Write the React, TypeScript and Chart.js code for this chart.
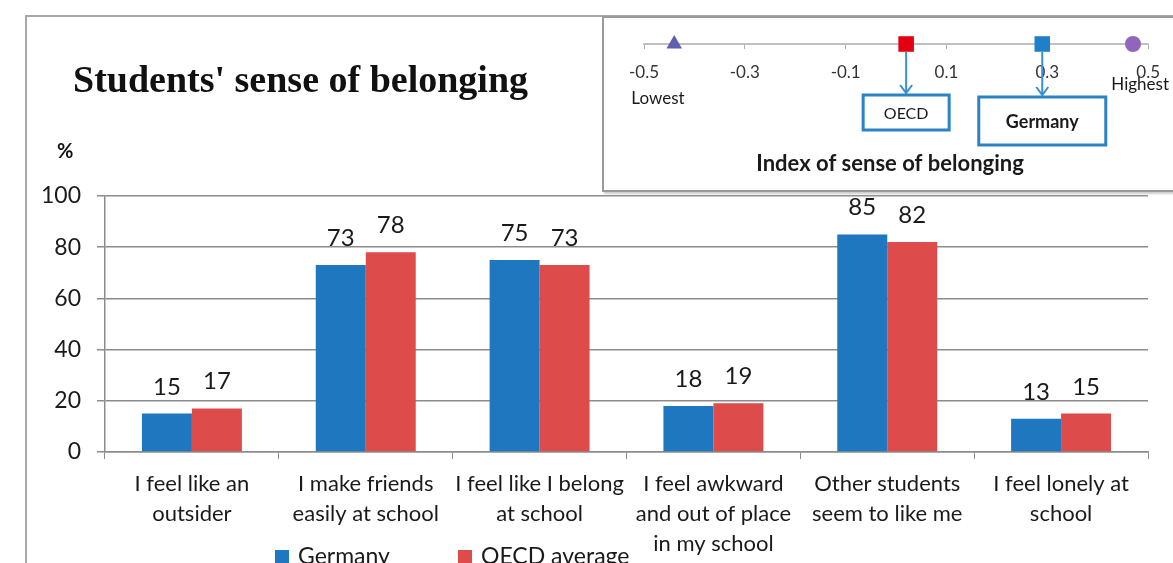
import React, { useEffect, useRef } from "react";
import { Chart, registerables } from "chart.js";

Chart.register(...registerables);

// ---------- data ----------
const categories: string[][] = [
  ["I feel like an", "outsider"],
  ["I make friends", "easily at school"],
  ["I feel like I belong", "at school"],
  ["I feel awkward", "and out of place", "in my school"],
  ["Other students", "seem to like me"],
  ["I feel lonely at", "school"],
];
const seriesNames = ["Germany", "OECD average"];
const germanyValues = [15, 73, 75, 18, 85, 13];
const oecdValues = [17, 78, 73, 19, 82, 15];
const yTickValues = [0, 20, 40, 60, 80, 100];

const indexTickValues = [-0.5, -0.3, -0.1, 0.1, 0.3, 0.5];
const indexPointNames = ["Lowest", "OECD", "Germany", "Highest"];
const indexPointValues = [-0.44, 0.02, 0.29, 0.47];

const mainTitle = "Students' sense of belonging";
const unitLabel = "%";
const indexTitle = "Index of sense of belonging";

// ---------- styles ----------
const BLUE = "#1f77bf";
const RED = "#dd4b4b";
const GRID = "#8c8c8c";
const TEXT = "#1a1a1a";
const SANS = "Lato, 'Open Sans', sans-serif";

const dataLabelPlugin = {
  id: "dataLabels",
  afterDatasetsDraw(chart: any) {
    const ctx = chart.ctx;
    ctx.save();
    ctx.font = `24px ${SANS}`;
    ctx.fillStyle = TEXT;
    ctx.textAlign = "center";
    ctx.textBaseline = "alphabetic";
    chart.data.datasets.forEach((ds: any, i: number) => {
      const meta = chart.getDatasetMeta(i);
      meta.data.forEach((el: any, j: number) => {
        ctx.fillText(String(ds.data[j]), el.x, el.y - 19);
      });
    });
    ctx.restore();
  },
};

const legendPlugin = {
  id: "customLegend",
  afterDraw(chart: any) {
    const ctx = chart.ctx;
    const area = chart.chartArea;
    ctx.save();
    ctx.font = `23px ${SANS}`;
    ctx.textBaseline = "middle";
    ctx.textAlign = "left";
    const yMid = area.bottom + 105;
    const starts = [area.left + 170, area.left + 353];
    chart.data.datasets.forEach((ds: any, i: number) => {
      const x = starts[i];
      ctx.fillStyle = ds.backgroundColor;
      ctx.fillRect(x, yMid - 7, 14, 14);
      ctx.fillStyle = TEXT;
      ctx.fillText(ds.label, x + 23, yMid);
    });
    ctx.restore();
  },
};

const insetPlugin = {
  id: "insetAnnotations",
  afterDraw(chart: any) {
    const ctx = chart.ctx;
    const xs = chart.scales.x;
    const meta = chart.getDatasetMeta(0);
    ctx.save();
    const boxes = [
      { idx: 1, w: 86, h: 35, top: 77, font: `16px ${SANS}` },
      { idx: 2, w: 127, h: 48, top: 79, font: `bold 18px ${SANS}` },
    ];
    boxes.forEach((b) => {
      const el = meta.data[b.idx];
      const x = el.x;
      ctx.strokeStyle = "#3a8fd2";
      ctx.lineWidth = 2;
      ctx.beginPath();
      ctx.moveTo(x, el.y + 8);
      ctx.lineTo(x, b.top - 2);
      ctx.moveTo(x - 6, b.top - 10);
      ctx.lineTo(x, b.top - 2);
      ctx.lineTo(x + 6, b.top - 10);
      ctx.stroke();
      ctx.lineWidth = 3;
      ctx.strokeStyle = "#2b83c6";
      ctx.strokeRect(x - b.w / 2, b.top, b.w, b.h);
      ctx.fillStyle = TEXT;
      ctx.font = b.font;
      ctx.textAlign = "center";
      ctx.textBaseline = "middle";
      ctx.fillText(indexPointNames[b.idx], x, b.top + b.h / 2 + 1);
    });
    ctx.font = `17px ${SANS}`;
    ctx.fillStyle = TEXT;
    ctx.textAlign = "center";
    ctx.textBaseline = "middle";
    ctx.fillText(indexPointNames[0], xs.getPixelForValue(-0.5) + 14, 81);
    ctx.fillText(indexPointNames[3], xs.getPixelForValue(0.5) - 8, 67);
    ctx.font = `bold 22px ${SANS}`;
    ctx.fillText(indexTitle, (chart.chartArea.left + chart.chartArea.right) / 2 - 6, 146);
    ctx.restore();
  },
};

export default function App() {
  const mainRef = useRef<HTMLCanvasElement>(null);
  const insetRef = useRef<HTMLCanvasElement>(null);

  useEffect(() => {
    const main = new Chart(mainRef.current as HTMLCanvasElement, {
      type: "bar",
      data: {
        labels: categories as any,
        datasets: [
          {
            label: seriesNames[0],
            data: germanyValues,
            backgroundColor: BLUE,
            categoryPercentage: 0.575,
            barPercentage: 1,
          },
          {
            label: seriesNames[1],
            data: oecdValues,
            backgroundColor: RED,
            categoryPercentage: 0.575,
            barPercentage: 1,
          },
        ],
      },
      options: {
        responsive: false,
        animation: false,
        devicePixelRatio: 1,
        layout: { padding: { left: 0, right: 25, top: 196, bottom: 0 } },
        plugins: {
          legend: { display: false },
          tooltip: { enabled: false },
        },
        scales: {
          x: {
            grid: {
              offset: true,
              drawOnChartArea: false,
              drawTicks: true,
              tickLength: 7,
              color: GRID,
            },
            border: { color: GRID, width: 1.5 },
            ticks: {
              font: { family: SANS, size: 22, lineHeight: 30 / 22 },
              color: TEXT,
              padding: 10,
              maxRotation: 0,
              autoSkip: false,
            },
            afterFit: (s: any) => {
              s.height = 111;
            },
          },
          y: {
            min: 0,
            max: 100,
            afterBuildTicks: (s: any) => {
              s.ticks = yTickValues.map((v) => ({ value: v }));
            },
            ticks: {
              font: { family: SANS, size: 23 },
              color: TEXT,
              padding: 16,
            },
            grid: { color: GRID, lineWidth: 1.5, tickLength: 8 },
            border: { color: GRID, width: 1.5 },
            afterFit: (s: any) => {
              s.width = 105;
            },
          },
        },
      },
      plugins: [dataLabelPlugin, legendPlugin],
    } as any);

    const inset = new Chart(insetRef.current as HTMLCanvasElement, {
      type: "scatter",
      data: {
        datasets: [
          {
            data: indexPointValues.map((v) => ({ x: v, y: 0 })),
            pointStyle: ["triangle", "rect", "rect", "circle"] as any,
            pointRadius: [9, 11, 11, 8],
            backgroundColor: ["#5f5fae", "#e3000f", "#1f7fc8", "#8f66bb"],
            borderColor: ["#5f5fae", "#e3000f", "#1f7fc8", "#8f66bb"],
            borderWidth: 0,
            clip: false as any,
          },
        ],
      },
      options: {
        responsive: false,
        animation: false,
        devicePixelRatio: 1,
        layout: { padding: { left: 40, right: 24, top: 16, bottom: 0 } },
        plugins: { legend: { display: false }, tooltip: { enabled: false } },
        scales: {
          x: {
            type: "linear",
            min: -0.5,
            max: 0.5,
            afterBuildTicks: (s: any) => {
              s.ticks = indexTickValues.map((v) => ({ value: v }));
            },
            ticks: {
              font: { family: SANS, size: 17 },
              color: "#333",
              padding: 13,
              callback: (v: any) => (Math.round(Number(v) * 10) / 10).toString(),
            },
            grid: { drawOnChartArea: false, tickLength: 5, color: "#b0b0b0" },
            border: { color: "#c0c0c0", width: 2 },
            afterFit: (s: any) => {
              s.height = 145;
            },
          },
          y: { display: false, min: 0, max: 1 },
        },
      },
      plugins: [insetPlugin],
    } as any);

    return () => {
      main.destroy();
      inset.destroy();
    };
  }, []);

  return (
    <div
      style={{
        position: "absolute",
        left: 0,
        top: 0,
        width: 1173,
        height: 563,
        overflow: "hidden",
        background: "#fff",
      }}
    >
      <div
        style={{
          position: "absolute",
          left: 25,
          top: 15,
          width: 1300,
          height: 700,
          borderLeft: "2px solid #a8a8a8",
          borderTop: "2px solid #a8a8a8",
        }}
      />
      <canvas
        ref={mainRef}
        width={1173}
        height={563}
        style={{ position: "absolute", left: 0, top: 0 }}
      />
      <div
        style={{
          position: "absolute",
          left: 73,
          top: 56,
          fontFamily: "'Liberation Serif', serif",
          fontWeight: "bold",
          fontSize: 38,
          lineHeight: "46px",
          color: "#111",
          whiteSpace: "nowrap",
        }}
      >
        {mainTitle}
      </div>
      <div
        style={{
          position: "absolute",
          left: 57,
          top: 138,
          fontFamily: SANS,
          fontWeight: "bold",
          fontSize: 20,
          color: "#111",
        }}
      >
        {unitLabel}
      </div>
      <div
        style={{
          position: "absolute",
          left: 602,
          top: 16,
          width: 640,
          height: 172,
          border: "2px solid #9a9a9a",
          background: "#fff",
          boxShadow: "2px 2px 2px #ccc",
        }}
      >
        <canvas ref={insetRef} width={569} height={171} style={{ position: "absolute", left: 0, top: 0 }} />
      </div>
    </div>
  );
}
